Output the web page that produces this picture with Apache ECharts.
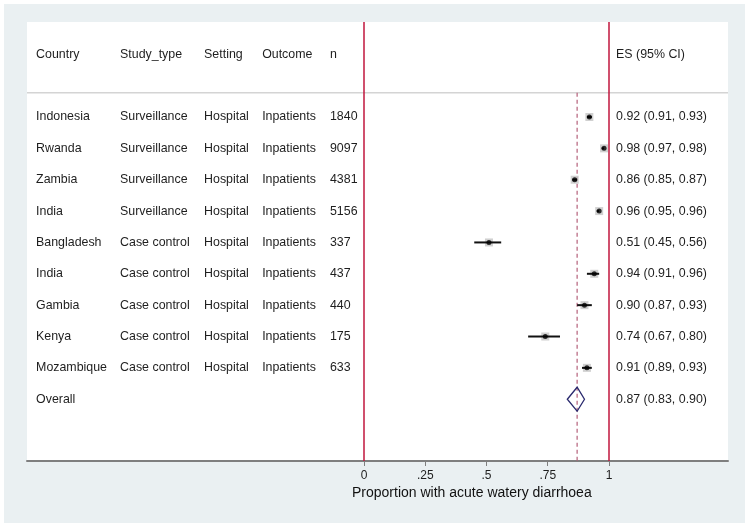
<!DOCTYPE html>
<html>
<head>
<meta charset="utf-8">
<script src="https://cdn.jsdelivr.net/npm/echarts@6/dist/echarts.min.js"></script>
<style>
html,body{margin:0;padding:0;background:#fff;}
#wrap{position:relative;width:750px;height:527px;background:#fff;}
#chart{position:absolute;left:4px;top:4px;width:741px;height:519px;background:#eaf0f2;}
</style>
</head>
<body>
<div id="wrap"><div id="chart"></div></div>
<script>
// ---- data ----
const countries = ['Indonesia','Rwanda','Zambia','India','Bangladesh','India','Gambia','Kenya','Mozambique'];
const studyTypes = ['Surveillance','Surveillance','Surveillance','Surveillance','Case control','Case control','Case control','Case control','Case control'];
const settings = ['Hospital','Hospital','Hospital','Hospital','Hospital','Hospital','Hospital','Hospital','Hospital'];
const outcomes = ['Inpatients','Inpatients','Inpatients','Inpatients','Inpatients','Inpatients','Inpatients','Inpatients','Inpatients'];
const nVals = [1840, 9097, 4381, 5156, 337, 437, 440, 175, 633];
const es = [0.92, 0.98, 0.86, 0.96, 0.51, 0.94, 0.90, 0.74, 0.91];
const ciLow = [0.91, 0.97, 0.85, 0.95, 0.45, 0.91, 0.87, 0.67, 0.89];
const ciHigh = [0.93, 0.98, 0.87, 0.96, 0.56, 0.96, 0.93, 0.80, 0.93];
const overallLabel = 'Overall';
const overall = [0.87, 0.83, 0.90]; // es, low, high
const headers = ['Country','Study_type','Setting','Outcome','n','ES (95% CI)'];
const tickValues = [0, 0.25, 0.5, 0.75, 1];
const tickLabels = ['0', '.25', '.5', '.75', '1'];
const axisTitle = 'Proportion with acute watery diarrhoea';

// ---- layout (not data) ----
const colX = [-1.339, -0.996, -0.653, -0.416, -0.139, 1.029];
const HEADER_ROW = -2;
const SEP_ROW = -0.77;
const OVERALL_ROW = countries.length;
const YMIN = -3.03, YMAX = 10.97;
const FONT = '"Liberation Sans", Arial, sans-serif';
const TXT = '#1e1e1e';
const RED = '#c0163c';

const fmt = v => v.toFixed(2);
const esText = (e, l, h) => fmt(e) + ' (' + fmt(l) + ', ' + fmt(h) + ')';

// table rows
const tableRows = [];
tableRows.push({row: HEADER_ROW, cells: headers});
countries.forEach((c, i) => {
  tableRows.push({row: i, cells: [c, studyTypes[i], settings[i], outcomes[i], String(nVals[i]), esText(es[i], ciLow[i], ciHigh[i])]});
});
tableRows.push({row: OVERALL_ROW, cells: [overallLabel, '', '', '', '', esText(overall[0], overall[1], overall[2])]});

const chart = echarts.init(document.getElementById('chart'));
const textRender = function (params, api) {
  const r = tableRows[params.dataIndex];
  const children = [];
  r.cells.forEach((t, j) => {
    if (!t) return;
    const p = api.coord([colX[j], r.row]);
    children.push({type: 'text', x: p[0], y: p[1], style: {text: t, fill: TXT, font: '12.4px ' + FONT, align: 'left', verticalAlign: 'middle'}});
  });
  return {type: 'group', children: children};
};

chart.setOption({
  animation: false,
  backgroundColor: '#eaf0f2',
  grid: {left: 23, right: 17, top: 18, bottom: 62, show: true, backgroundColor: '#ffffff', borderWidth: 0},
  xAxis: {
    type: 'value', min: -1.376, max: 1.486,
    splitLine: {show: false},
    axisLine: {show: true, onZero: false, lineStyle: {color: '#7f7f7f', width: 2}},
    axisTick: {show: true, customValues: tickValues, length: 5, lineStyle: {color: '#7f7f7f', width: 1}},
    axisLabel: {show: true, customValues: tickValues, margin: 9, color: '#1e1e1e', fontSize: 12, fontFamily: FONT,
      formatter: v => tickLabels[tickValues.indexOf(v)] !== undefined ? tickLabels[tickValues.indexOf(v)] : ''}
  },
  yAxis: {type: 'value', min: YMIN, max: YMAX, inverse: true, show: false},
  graphic: [{
    type: 'text', left: 348, top: 482,
    style: {text: axisTitle, fill: '#111', font: '14px ' + FONT}
  }],
  series: [
    { // separator line
      type: 'custom', silent: true, z: 1,
      data: [[0]],
      renderItem: (params, api) => {
        const a = api.coord([-1.376, SEP_ROW]);
        const b = api.coord([1.486, SEP_ROW]);
        return {type: 'line', shape: {x1: a[0], y1: a[1], x2: b[0], y2: b[1]}, style: {stroke: '#d4d4d4', lineWidth: 1.5}};
      }
    },
    { // red reference lines at 0 and 1
      type: 'line', data: [], silent: true,
      markLine: {symbol: 'none', silent: true, label: {show: false},
        lineStyle: {color: RED, width: 1.5, type: 'solid'},
        data: [{xAxis: 0}, {xAxis: 1}]}
    },
    { // dashed overall line
      type: 'custom', silent: true, z: 2,
      data: [[overall[0]]],
      renderItem: (params, api) => {
        const a = api.coord([api.value(0), SEP_ROW]);
        const b = api.coord([api.value(0), YMAX]);
        return {type: 'line', shape: {x1: a[0], y1: a[1], x2: b[0], y2: b[1]}, style: {stroke: '#b5607a', lineWidth: 1.2, lineDash: [4, 3]}};
      }
    },
    { // weight boxes
      type: 'scatter', silent: true, z: 3,
      symbol: 'rect', symbolSize: 8,
      itemStyle: {color: '#c4c4c4'},
      data: es.map((v, i) => [v, i])
    },
    { // CI lines
      type: 'custom', silent: true, z: 4,
      data: ciLow.map((l, i) => [l, ciHigh[i], i]),
      renderItem: (params, api) => {
        const a = api.coord([api.value(0), api.value(2)]);
        const b = api.coord([api.value(1), api.value(2)]);
        return {type: 'line', shape: {x1: a[0], y1: a[1], x2: b[0], y2: b[1]}, style: {stroke: '#111', lineWidth: 2}};
      }
    },
    { // point estimates
      type: 'scatter', silent: true, z: 5,
      symbol: 'circle', symbolSize: 5,
      itemStyle: {color: '#000'},
      data: es.map((v, i) => [v, i])
    },
    { // overall diamond
      type: 'custom', silent: true, z: 5,
      data: [[overall[0], overall[1], overall[2], OVERALL_ROW]],
      renderItem: (params, api) => {
        const r = api.value(3);
        const l = api.coord([api.value(1), r]);
        const m = api.coord([api.value(0), r]);
        const h = api.coord([api.value(2), r]);
        const hh = 12;
        return {type: 'polygon', shape: {points: [[l[0], l[1]], [m[0], m[1] - hh], [h[0], h[1]], [m[0], m[1] + hh]]},
          style: {fill: 'rgba(255,255,255,0)', stroke: '#2a2a6e', lineWidth: 1.3}};
      }
    },
    { // table text
      type: 'custom', silent: true, z: 6,
      data: tableRows.map((r, i) => [i]),
      renderItem: textRender
    }
  ]
});
</script>
</body>
</html>
